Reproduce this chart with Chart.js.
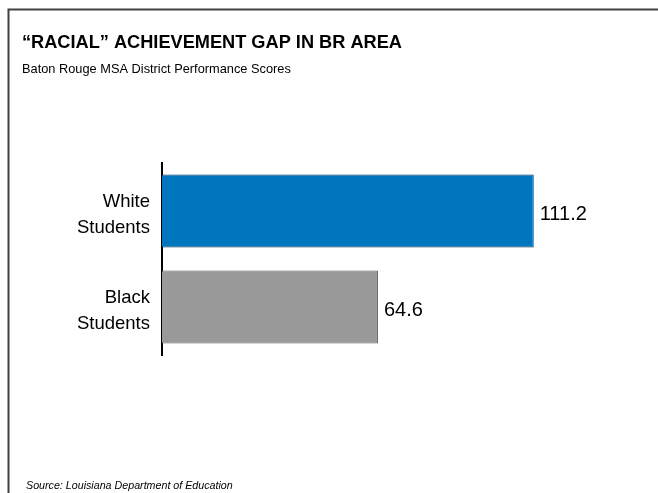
<!DOCTYPE html>
<html>
<head>
<meta charset="utf-8">
<script src="https://cdn.jsdelivr.net/npm/chart.js@4/dist/chart.umd.min.js"></script>
<style>
  html, body { margin: 0; padding: 0; background: #fff; }
  #wrap { position: relative; width: 658px; height: 493px; }
  canvas { display: block; }
</style>
</head>
<body>
<div id="wrap"><canvas id="c" width="658" height="493"></canvas></div>
<script>
const categories = [["White", "Students"], ["Black", "Students"]];
const scores = [111.2, 64.6];
const valueLabels = ["111.2", "64.6"];
const titleText = "\u201CRACIAL\u201D ACHIEVEMENT GAP IN BR AREA";
const subtitleText = "Baton Rouge MSA District Performance Scores";
const sourceText = "Source: Louisiana Department of Education";

const FONT = "'Liberation Sans', Arial, Helvetica, sans-serif";

const decor = {
  id: 'decor',
  beforeDraw(chart) {
    const ctx = chart.ctx;
    ctx.save();
    ctx.fillStyle = '#fff';
    ctx.fillRect(0, 0, chart.width, chart.height);
    // frame
    ctx.strokeStyle = '#404040';
    ctx.lineWidth = 2;
    ctx.beginPath();
    ctx.moveTo(658, 9.5);
    ctx.lineTo(8.5, 9.5);
    ctx.lineTo(8.5, 493);
    ctx.stroke();
    // title
    ctx.fillStyle = '#000';
    ctx.textBaseline = 'alphabetic';
    ctx.textAlign = 'left';
    ctx.font = "bold 18.2px " + FONT;
    ctx.fillText(titleText, 22, 48);
    ctx.font = "12.8px " + FONT;
    ctx.fillText(subtitleText, 22, 73);
    ctx.font = "italic 10.7px " + FONT;
    ctx.fillText(sourceText, 26, 489);
    ctx.restore();
  },
  afterDatasetsDraw(chart) {
    const ctx = chart.ctx;
    const meta = chart.getDatasetMeta(0);
    ctx.save();
    ctx.fillStyle = '#000';
    ctx.font = "20px " + FONT;
    ctx.textAlign = 'left';
    ctx.textBaseline = 'middle';
    meta.data.forEach((bar, i) => {
      ctx.fillText(valueLabels[i], bar.x + 6, bar.y + 3);
    });
    ctx.restore();
  }
};

new Chart(document.getElementById('c'), {
  type: 'bar',
  data: {
    labels: categories,
    datasets: [{
      data: scores,
      backgroundColor: ['#0076BF', '#999999'],
      borderColor: ['#0A2E4F', '#5A5A5A'],
      borderWidth: 1,
      borderSkipped: 'left',
      categoryPercentage: 1,
      barPercentage: 0.76
    }]
  },
  options: {
    indexAxis: 'y',
    responsive: false,
    animation: false,
    devicePixelRatio: 1,
    layout: { padding: { left: 0, right: 28, top: 163, bottom: 138 } },
    plugins: {
      legend: { display: false },
      tooltip: { enabled: false },
      title: { display: false }
    },
    scales: {
      x: { display: false, min: 0, max: 140 },
      y: {
        grid: { display: false, drawTicks: false },
        border: { display: true, color: '#000', width: 2 },
        ticks: {
          color: '#000',
          font: { family: FONT, size: 18.5, lineHeight: 1.38 },
          padding: 12,
          labelOffset: 4
        },
        afterFit(scale) { scale.width = 162; }
      }
    }
  },
  plugins: [decor]
});
</script>
</body>
</html>
